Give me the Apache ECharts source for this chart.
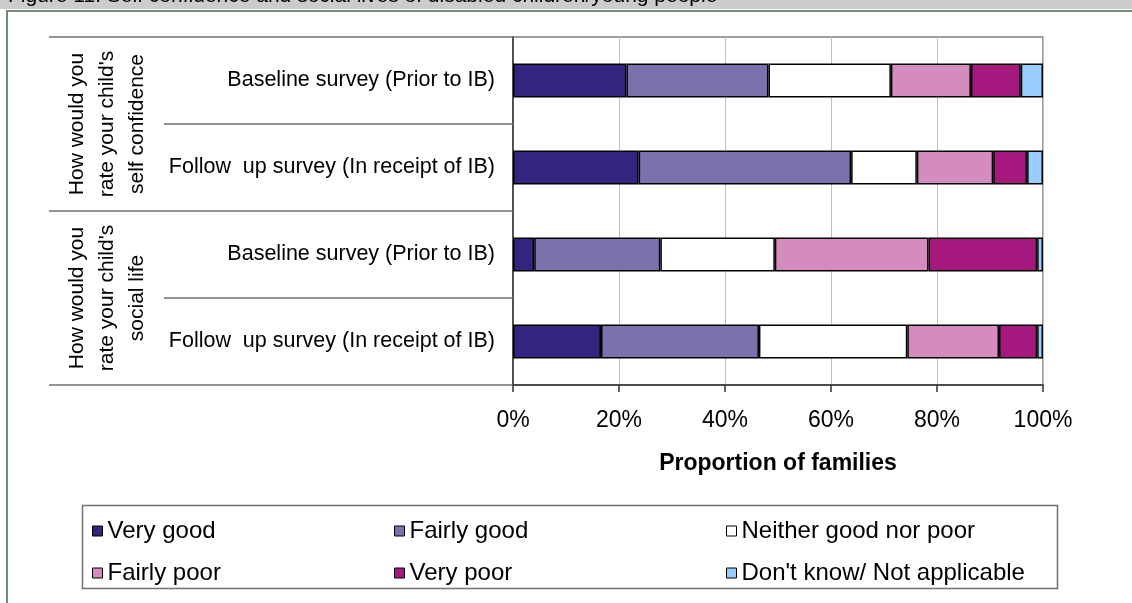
<!DOCTYPE html>
<html>
<head>
<meta charset="utf-8">
<script src="https://cdn.jsdelivr.net/npm/echarts@6/dist/echarts.min.js"></script>
<style>
html,body{margin:0;padding:0;background:#fff;}
#main{width:1132px;height:603px;}
</style>
</head>
<body>
<div id="main"></div>
<script>
// ---- data ----
const categories = ['Baseline survey (Prior to IB)', 'Follow  up survey (In receipt of IB)', 'Baseline survey (Prior to IB)', 'Follow  up survey (In receipt of IB)'];
const groups = ["How would you\nrate your child's\nself confidence", "How would you\nrate your child's\nsocial life"];
const seriesNames = ['Very good', 'Fairly good', 'Neither good nor poor', 'Fairly poor', 'Very poor', "Don't know/ Not applicable"];
const veryGood   = [21.4, 23.7, 4.0, 16.6];
const fairlyGood = [26.8, 40.1, 23.8, 29.8];
const neither    = [23.1, 12.4, 21.6, 28.0];
const fairlyPoor = [15.1, 14.4, 29.0, 17.3];
const veryPoor   = [9.4, 6.4, 20.5, 7.2];
const dontKnow   = [4.2, 3.0, 1.1, 1.1];
const xTicks = [0, 20, 40, 60, 80, 100];
const titleText = 'Figure 11: Self confidence and social lives of disabled children/young people';
const xAxisTitle = 'Proportion of families';

const colors = ['#33247F', '#7B72AD', '#FFFFFF', '#D48BBE', '#A5197F', '#99CCFF'];
const values = [veryGood, fairlyGood, neither, fairlyPoor, veryPoor, dontKnow];

const chart = echarts.init(document.getElementById('main'), null, {renderer: 'canvas'});
const FONT = "'Liberation Sans', Arial, sans-serif";

const series = seriesNames.map((name, i) => ({
  name: name,
  type: 'bar',
  stack: 'total',
  yAxisIndex: 0,
  barCategoryGap: '61%',
  data: values[i],
  itemStyle: {color: colors[i], borderColor: '#000', borderWidth: 1.5},
  emphasis: {disabled: true}
}));

const legendBase = {
  orient: 'vertical', top: 514, itemGap: 18, itemWidth: 10, itemHeight: 10, icon: 'rect',
  itemStyle: {borderColor: '#000', borderWidth: 1},
  textStyle: {fontSize: 24, color: '#000', fontFamily: FONT},
  selectedMode: false
};

chart.setOption({
  animation: false,
  backgroundColor: '#fff',
  textStyle: {fontFamily: FONT},
  title: {
    text: titleText, left: 3, top: -19, z: 10,
    textStyle: {fontSize: 21, fontWeight: 'normal', color: '#000', fontFamily: FONT}
  },
  grid: {left: 513, right: 89, top: 37, bottom: 218, show: true, borderColor: '#808080', borderWidth: 1.5, backgroundColor: '#fff'},
  legend: [
    Object.assign({}, legendBase, {left: 87, data: [seriesNames[0], seriesNames[3]]}),
    Object.assign({}, legendBase, {left: 389, data: [seriesNames[1], seriesNames[4]]}),
    Object.assign({}, legendBase, {left: 721, data: [seriesNames[2], seriesNames[5]]})
  ],
  xAxis: {
    type: 'value', min: xTicks[0], max: xTicks[xTicks.length - 1], interval: 20,
    axisLine: {show: true, lineStyle: {color: '#333', width: 1.5}},
    axisTick: {show: true, length: 7, lineStyle: {color: '#333', width: 1.5}},
    axisLabel: {formatter: '{value}%', fontSize: 23, color: '#000', margin: 24},
    splitLine: {show: true, lineStyle: {color: '#C0C0C0', width: 1}},
    name: xAxisTitle, nameLocation: 'middle', nameGap: 67,
    nameTextStyle: {fontSize: 23, fontWeight: 'bold', color: '#000'}
  },
  yAxis: [
    {
      type: 'category', data: categories, inverse: true, position: 'left',
      axisLine: {show: true, lineStyle: {color: '#333', width: 1.5}},
      axisTick: {show: true, length: 349, lineStyle: {color: '#707070', width: 1.5}},
      axisLabel: {fontSize: 21.5, color: '#000', margin: 18, interval: 0}
    },
    {
      type: 'category', data: groups, inverse: true, position: 'left',
      axisLine: {show: false},
      axisTick: {show: true, length: 464, lineStyle: {color: '#707070', width: 1.5}},
      axisLabel: {fontSize: 21, color: '#000', rotate: 90, margin: 361, lineHeight: 30, interval: 0}
    }
  ],
  graphic: [
    {type: 'rect', shape: {x: 0, y: 0, width: 1132, height: 9}, style: {fill: '#CCCCCC'}, z: 0, silent: true},
    {type: 'line', shape: {x1: 6, y1: 11, x2: 1132, y2: 11}, style: {stroke: '#708C76', lineWidth: 2}, silent: true},
    {type: 'line', shape: {x1: 7, y1: 10, x2: 7, y2: 603}, style: {stroke: '#708C76', lineWidth: 2}, silent: true},
    {type: 'rect', shape: {x: 82.5, y: 505.5, width: 975, height: 83}, style: {fill: 'none', stroke: '#707070', lineWidth: 1.5}, silent: true}
  ],
  series: series
});
</script>
</body>
</html>
